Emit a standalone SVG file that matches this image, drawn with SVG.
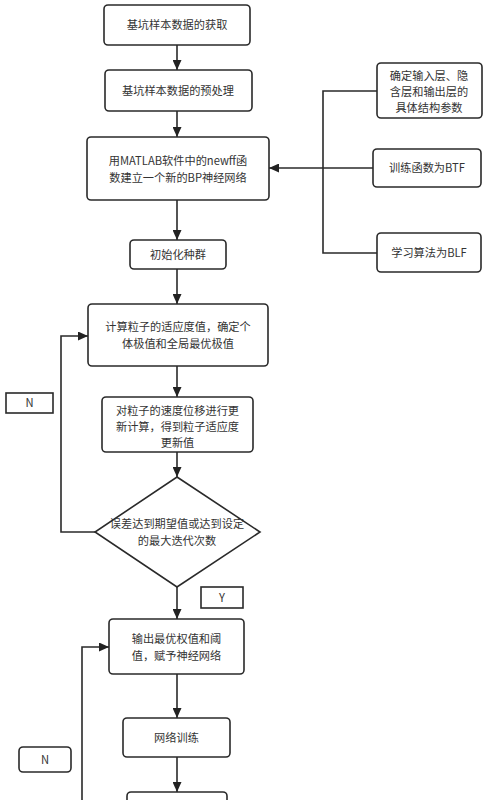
<svg xmlns="http://www.w3.org/2000/svg" width="485" height="800" viewBox="0 0 485 800">
<defs>
<marker id="ah" markerWidth="10" markerHeight="9" refX="10" refY="4.5" orient="auto" markerUnits="userSpaceOnUse">
<path d="M0,0 L10,4.5 L0,9 z" fill="#222"/>
</marker>
</defs>
<style>
.box{fill:#fff;stroke:#2a2a2a;stroke-width:1.6}
.t{font-family:"Noto Sans CJK SC","Noto Sans",sans-serif;font-size:11.2px;fill:#333;text-anchor:middle}
.c{fill:none;stroke:#2a2a2a;stroke-width:1.6}
.a{marker-end:url(#ah)}
</style>
<rect width="485" height="800" fill="#fff"/>
<g id="connectors">
<line class="c a" x1="177" y1="45" x2="177" y2="70"/>
<line class="c a" x1="177" y1="111" x2="177" y2="137"/>
<line class="c a" x1="177" y1="200" x2="177" y2="240"/>
<line class="c a" x1="177" y1="269" x2="177" y2="304"/>
<line class="c a" x1="177" y1="366" x2="177" y2="397"/>
<line class="c a" x1="177" y1="452" x2="177" y2="477"/>
<line class="c a" x1="177" y1="587" x2="177" y2="619"/>
<line class="c a" x1="177" y1="674" x2="177" y2="718"/>
<line class="c a" x1="177" y1="757" x2="177" y2="792"/>
<polyline class="c" points="377,91 323,91 323,253 377,253"/>
<line class="c a" x1="373" y1="168" x2="269" y2="168"/>
<polyline class="c a" points="95,532 61,532 61,336 88,336"/>
<polyline class="c a" points="82,800 82,647 109,647"/>
</g>
<g id="n1"><rect class="box" x="104" y="5" width="146" height="40" rx="4"/><text class="t" x="177" y="29">基坑样本数据的获取</text></g>
<g id="n2"><rect class="box" x="105" y="70" width="147" height="41" rx="4"/><text class="t" x="178" y="94.5">基坑样本数据的预处理</text></g>
<g id="n3"><rect class="box" x="87" y="137" width="182" height="63" rx="4"/><text class="t" x="178" y="165">用MATLAB软件中的newff函</text><text class="t" x="178" y="182">数建立一个新的BP神经网络</text></g>
<g id="n4"><rect class="box" x="130" y="240" width="96" height="29" rx="4"/><text class="t" x="178" y="258.5">初始化种群</text></g>
<g id="r1"><rect class="box" x="377" y="63" width="105" height="55" rx="4"/><text class="t" x="429" y="79.5">确定输入层、隐</text><text class="t" x="429" y="95.5">含层和输出层的</text><text class="t" x="429" y="111.5">具体结构参数</text></g>
<g id="r2"><rect class="box" x="373" y="149" width="108" height="38" rx="4"/><text class="t" x="427" y="172">训练函数为BTF</text></g>
<g id="r3"><rect class="box" x="377" y="233" width="104" height="39" rx="4"/><text class="t" x="429" y="256.5">学习算法为BLF</text></g>
<g id="n5"><rect class="box" x="88" y="304" width="180" height="62" rx="4"/><text class="t" x="178" y="331">计算粒子的适应度值，确定个</text><text class="t" x="178" y="347.5">体极值和全局最优极值</text></g>
<g id="lblN1"><rect class="box" x="6" y="393" width="47" height="20"/><text class="t" x="29.5" y="407">N</text></g>
<g id="n6"><rect class="box" x="102" y="397" width="151" height="55" rx="4"/><text class="t" x="177.5" y="414.5">对粒子的速度位移进行更</text><text class="t" x="177.5" y="430.5">新计算，得到粒子适应度</text><text class="t" x="177.5" y="446.5">更新值</text></g>
<g id="d1"><polygon class="box" points="177,477 260,532 177,587 95,532"/><text class="t" x="177" y="528">误差达到期望值或达到设定</text><text class="t" x="177" y="544.5">的最大迭代次数</text></g>
<g id="lblY"><rect class="box" x="201" y="587" width="42" height="21"/><text class="t" x="222" y="601.5">Y</text></g>
<g id="n7"><rect class="box" x="109" y="619" width="135" height="55" rx="4"/><text class="t" x="176.5" y="643">输出最优权值和阈</text><text class="t" x="176.5" y="659.5">值，赋予神经网络</text></g>
<g id="n8"><rect class="box" x="123" y="718" width="107" height="39" rx="4"/><text class="t" x="176.5" y="741.5">网络训练</text></g>
<g id="lblN2"><rect class="box" x="19" y="747" width="52" height="25" rx="4"/><text class="t" x="45" y="763.5">N</text></g>
<g id="n9"><rect class="box" x="127" y="792" width="100" height="30" rx="4"/></g>
</svg>
